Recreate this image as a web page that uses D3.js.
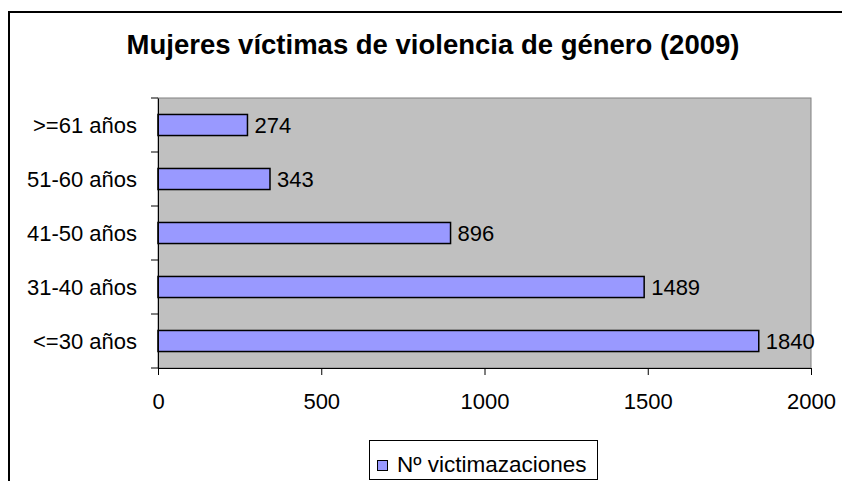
<!DOCTYPE html>
<html><head><meta charset="utf-8">
<script src="https://cdn.jsdelivr.net/npm/d3@7"></script>
<style>body{margin:0;background:#fff}svg{display:block}</style>
</head><body>
<svg id="c" width="842" height="481"></svg>
<script>
const categories = [">=61 años", "51-60 años", "41-50 años", "31-40 años", "<=30 años"];
const values = [274, 343, 896, 1489, 1840];
const xTicks = [0, 500, 1000, 1500, 2000];
const title = "Mujeres víctimas de violencia de género (2009)";
const seriesName = "Nº victimazaciones";

const svg = d3.select("#c");
const font = "'Liberation Sans', Arial, sans-serif";
const L = 158, R = 811, T = 98, B = 368;
const fs = 22;

svg.append("rect").attr("x", 9).attr("y", 12).attr("width", 900).attr("height", 600)
  .attr("fill", "#fff").attr("stroke", "#000").attr("stroke-width", 2);

svg.append("text").attr("x", 433).attr("y", 54).attr("text-anchor", "middle")
  .attr("font-family", font).attr("font-weight", "bold").attr("font-size", 27.5).text(title);

const x = d3.scaleLinear().domain([0, 2000]).range([L, R]);
const y = d3.scaleBand().domain(categories).range([T, B]).paddingInner(0.61).paddingOuter(0.305);
const yb = d3.scaleBand().domain(categories).range([T, B]);

svg.append("rect").attr("x", L).attr("y", T).attr("width", R - L).attr("height", B - T)
  .attr("fill", "#c0c0c0").attr("stroke", "#808080").attr("stroke-width", 1);

svg.append("g").selectAll("rect").data(values).join("rect")
  .attr("x", x(0)).attr("y", (d, i) => y(categories[i]))
  .attr("width", d => x(d) - x(0)).attr("height", y.bandwidth())
  .attr("fill", "#9999ff").attr("stroke", "#000").attr("stroke-width", 1.5);

svg.append("g").selectAll("text").data(values).join("text")
  .attr("x", d => x(d) + 7).attr("y", (d, i) => y(categories[i]) + y.bandwidth() / 2 + 7.5)
  .attr("font-family", font).attr("font-size", fs).text(d => d);

// axes
const xa = svg.append("g").attr("transform", `translate(0,${B})`)
  .call(d3.axisBottom(x).tickValues(xTicks).tickSize(7).tickPadding(18).tickFormat(d3.format("d")));
const ya = svg.append("g").attr("transform", `translate(${L},0)`)
  .call(d3.axisLeft(yb).tickSize(0).tickPadding(21));
svg.append("g").selectAll("line").data(d3.range(categories.length + 1)).join("line")
  .attr("x1", L - 7).attr("x2", L)
  .attr("y1", i => T + i * yb.step()).attr("y2", i => T + i * yb.step())
  .attr("stroke", "#000");
[xa, ya].forEach(a => {
  a.select(".domain").attr("stroke", "#000").attr("stroke-width", 1);
  a.selectAll("line").attr("stroke", "#000");
  a.selectAll("text").attr("font-family", font).attr("font-size", fs).attr("fill", "#000");
});
ya.selectAll("text").attr("dy", null).attr("transform", "translate(0,7.5)");
xa.selectAll("text").attr("dy", "0.71em");

// legend
const lg = svg.append("g");
lg.append("rect").attr("x", 369.5).attr("y", 440.5).attr("width", 228).attr("height", 39)
  .attr("fill", "#fff").attr("stroke", "#000").attr("stroke-width", 1);
lg.append("rect").attr("x", 377.5).attr("y", 460.5).attr("width", 10).attr("height", 10)
  .attr("fill", "#9999ff").attr("stroke", "#000").attr("stroke-width", 1);
lg.append("text").attr("x", 397).attr("y", 472)
  .attr("font-family", font).attr("font-size", 22.5).text(seriesName);
</script>
</body></html>
